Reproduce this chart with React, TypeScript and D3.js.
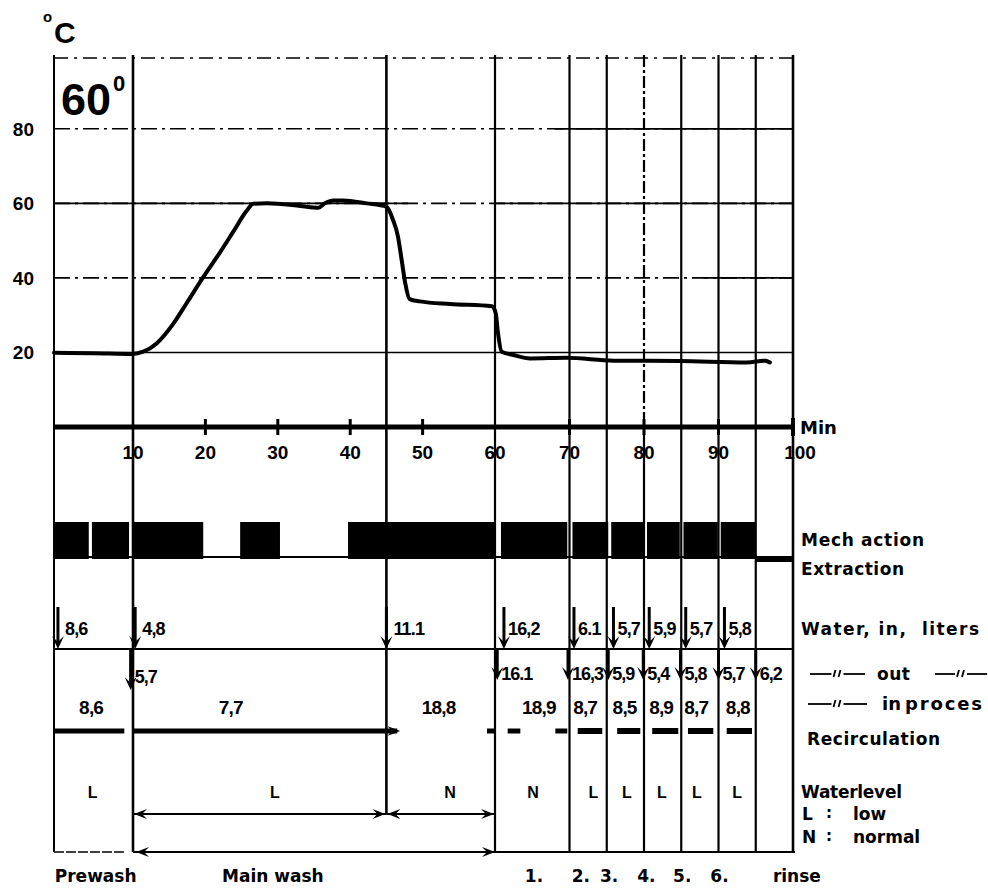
import React from 'react';
import * as d3 from 'd3';

// ---------- data ----------
const tempMinutes = [0, 5, 10, 11.4, 13.3, 15.6, 17.4, 19.7, 22, 23.85, 25.7, 26.6, 28.5, 33.1, 35.6, 36.5, 37.7, 39.0, 42.3, 45, 45.9, 46.6, 47.1, 47.6, 48.2, 49.6, 53.8, 59.6, 60.1, 60.4, 60.9, 62.5, 64.7, 69.6, 75.9, 84.8, 93.8, 96.3, 96.9];
const tempValues = [19.9, 19.8, 19.6, 20.2, 22.5, 27.8, 33.2, 40.2, 46.8, 52.4, 58.0, 59.9, 60, 59.3, 58.8, 60, 60.8, 60.8, 60, 59.1, 55.6, 51.1, 44.9, 38.6, 34.3, 33.7, 33.0, 32.4, 30.5, 25.2, 20.2, 19.3, 18.4, 18.6, 17.8, 17.7, 17.3, 17.8, 17.3];

const xTicks = [10, 20, 30, 40, 50, 60, 70, 80, 90, 100];
const xMinorTicks = [20, 30, 40, 50, 70, 80, 90];
const yTicks = [20, 40, 60, 80];
const phaseBounds = [10, 45, 60, 70, 75, 80, 85, 90, 95, 100];

const mechOn: [number, number][] = [[0, 4.4], [4.8, 9.5], [10.0, 19.7], [24.8, 30.3], [39.7, 60.1], [60.8, 69.7], [70.4, 75.2], [75.6, 79.9], [80.4, 84.8], [85.3, 89.9], [90.3, 94.9]];
const extraction: [number, number] = [94.9, 100];

const waterInTimes = [0.5, 10.3, 45, 61.2, 70.6, 75.9, 80.7, 85.6, 90.8];
const waterInLabels = ['8,6', '4,8', '11.1', '16,2', '6.1', '5,7', '5,9', '5,7', '5,8'];
const waterOutTimes = [9.7, 60.3, 69.8, 75.2, 79.9, 84.9, 90.0, 95.0];
const waterOutLabels = ['5,7', '16.1', '16,3', '5,9', '5,4', '5,8', '5,7', '6,2'];

const recircCenters = [4.7, 23.5, 52.2, 65.9, 72.1, 77.4, 82.3, 87.0, 92.6];
const recircLabels = ['8,6', '7,7', '18,8', '18,9', '8,7', '8,5', '8,9', '8,7', '8,8'];
const recircSegments: [number, number][] = [[0, 8.9], [10, 46.5], [58.9, 60], [61.7, 63.4], [68.1, 69.7], [71.1, 74.4], [76.4, 79.5], [81.1, 84.6], [85.9, 89.3], [91.1, 94.5]];

const levelCenters = [4.9, 29.6, 53.8, 65.1, 73.2, 77.7, 82.4, 87.1, 92.5];
const levelLabels = ['L', 'L', 'N', 'N', 'L', 'L', 'L', 'L', 'L'];

const phaseLabelStarts = [0.1, 22.3, 64.0, 70.3, 74.1, 79.1, 83.9, 88.9, 97.3];
const phaseLabels = ['Prewash', 'Main wash', '1.', '2.', '3.', '4.', '5.', '6.', 'rinse'];

const rightLabels = ['Mech action', 'Extraction', 'Water, in,  liters', 'Recirculation', 'Waterlevel'];

// ---------- layout ----------
const W = 988, H = 891;
const TOP = 58, AXIS_Y = 427;
const MECH_TOP = 522, MECH_BOT = 559;
const IN_TOP = 607, IN_LINE = 649;
const RECIRC_Y = 731, WL_Y = 814, BOT_Y = 852;
const FONT = '"Liberation Sans", Arial, Helvetica, sans-serif';
const LABEL_FONT = '"DejaVu Sans", "Liberation Sans", sans-serif';

const x = d3.scaleLinear().domain([0, 10, 60, 100]).range([54, 133, 495, 793]);
const y = d3.scaleLinear().domain([0, 99]).range([AXIS_Y, TOP]);

const arrowDown = (cx: number, tip: number) =>
  `M${cx - 6},${tip - 13} L${cx},${tip} L${cx + 6},${tip - 13} L${cx},${tip - 7} Z`;
const arrowLeft = (px: number, py: number) =>
  `M${px + 13},${py - 5} L${px},${py} L${px + 13},${py + 5} L${px + 8},${py} Z`;
const arrowRight = (px: number, py: number) =>
  `M${px - 13},${py - 5} L${px},${py} L${px - 13},${py + 5} L${px - 8},${py} Z`;

function Ditto({ x0, base, w }: { x0: number; base: number; w: number }) {
  const ly = base - 6;
  const mid = x0 + w / 2;
  return (
    <g>
      <line x1={x0} x2={mid - 6} y1={ly} y2={ly} stroke="#000" strokeWidth={1.8} />
      <path d={`M${mid - 4},${ly + 3} L${mid - 2},${ly - 4} M${mid + 1},${ly + 3} L${mid + 3},${ly - 4}`}
        stroke="#000" strokeWidth={1.8} fill="none" />
      <line x1={mid + 6} x2={x0 + w} y1={ly} y2={ly} stroke="#000" strokeWidth={1.8} />
    </g>
  );
}

export default function App() {
  const line = d3.line<number>()
    .x((_, i) => x(tempMinutes[i]))
    .y((d) => y(d))
    .curve(d3.curveMonotoneX);
  const tempPath = line(tempValues) || '';

  const vExtent = (b: number) => (b === 45 ? WL_Y : BOT_Y);
  const rightY = [546, 575, 635, 745, 798];
  const rightX = [801, 801, 801, 807, 801];
  const rightW = [123, 103, 178, 133, 101];

  return (
    <svg width={W} height={H} style={{ position: 'absolute', left: 0, top: 0, background: '#fff' }}
      fontFamily={FONT} fontWeight="bold">
      <rect width={W} height={H} fill="#fff" />

      {/* unit label */}
      <text x={43} y={22} fontSize={15}>o</text>
      <text x={54} y={43} fontSize={30}>C</text>

      {/* horizontal grid */}
      <line x1={54} x2={793} y1={TOP} y2={TOP} stroke="#000" strokeWidth={1.5} strokeDasharray="14 6 3 6" />
      {yTicks.map((v) => (
        <g key={v}>
          <line x1={54} x2={793} y1={y(v)} y2={y(v)} stroke="#000" strokeWidth={1.6}
            strokeDasharray={v === 20 ? undefined : '16 5 3 5'} />
          {v !== 20 && (
            <line x1={x(v === 60 ? 60 : v === 80 ? 68 : 88)} x2={793} y1={y(v)} y2={y(v)} stroke="#000" strokeWidth={1.8} />
          )}
          {v === 60 && <line x1={54} x2={x(48)} y1={y(v)} y2={y(v)} stroke="#000" strokeWidth={1.8} />}
          <text x={34} y={y(v) + 7} fontSize={19} textAnchor="end">{v}</text>
        </g>
      ))}

      {/* left axis */}
      <line x1={54} x2={54} y1={TOP - 3} y2={BOT_Y} stroke="#000" strokeWidth={2} />

      {/* phase boundaries */}
      {phaseBounds.map((b) => (
        <g key={b}>
          <line x1={x(b)} x2={x(b)} y1={TOP - 3} y2={b === 80 ? AXIS_Y : vExtent(b)} stroke="#000"
            strokeWidth={b === 10 || b === 45 || b === 100 ? 2.6 : 2.2}
            strokeDasharray={b === 80 ? '12 3 3 3' : undefined} />
          {b === 80 && <line x1={x(b)} x2={x(b)} y1={AXIS_Y} y2={BOT_Y} stroke="#000" strokeWidth={2.2} />}
        </g>
      ))}

      {/* 60° label */}
      <text x={61} y={115} fontSize={45}>60</text>
      <text x={113} y={91} fontSize={22}>0</text>

      {/* time axis */}
      <line x1={54} x2={795} y1={AXIS_Y} y2={AXIS_Y} stroke="#000" strokeWidth={5} />
      {xMinorTicks.map((t) => (
        <line key={t} x1={x(t)} x2={x(t)} y1={AXIS_Y - 8} y2={AXIS_Y + 8} stroke="#000" strokeWidth={3} />
      ))}
      <line x1={x(100)} x2={x(100)} y1={AXIS_Y - 9} y2={AXIS_Y + 9} stroke="#000" strokeWidth={4} />
      {xTicks.map((t) => (
        <text key={t} x={x(t) + (t === 100 ? 7 : 0)} y={459} fontSize={19} textAnchor="middle">{t}</text>
      ))}
      <text x={800} y={434} fontSize={18} fontFamily={LABEL_FONT}>Min</text>

      {/* temperature curve */}
      <path d={tempPath} fill="none" stroke="#000" strokeWidth={4} strokeLinejoin="round" strokeLinecap="round" />

      {/* mechanical action */}
      <line x1={54} x2={x(95)} y1={MECH_BOT - 2} y2={MECH_BOT - 2} stroke="#000" strokeWidth={2} />
      {mechOn.map(([a, b], i) => (
        <rect key={i} x={x(a)} y={MECH_TOP} width={x(b) - x(a)} height={MECH_BOT - MECH_TOP} fill="#000" />
      ))}
      <rect x={x(extraction[0])} y={556} width={x(extraction[1]) - x(extraction[0])} height={6} fill="#000" />

      {/* water in */}
      <line x1={54} x2={793} y1={IN_LINE} y2={IN_LINE} stroke="#000" strokeWidth={2} />
      {waterInTimes.map((t, i) => (
        <g key={i}>
          <line x1={x(t)} x2={x(t)} y1={IN_TOP} y2={IN_LINE - 4} stroke="#000" strokeWidth={3} />
          <path d={arrowDown(x(t), IN_LINE)} fill="#000" />
          <text x={x(t) + (i < 3 ? 7 : 4)} y={635} fontSize={18} letterSpacing={-0.8}>{waterInLabels[i]}</text>
        </g>
      ))}

      {/* water out */}
      {waterOutTimes.map((t, i) => {
        const tip = i === 0 ? 690 : 680;
        return (
          <g key={i}>
            <line x1={x(t)} x2={x(t)} y1={IN_LINE} y2={tip - 4} stroke="#000" strokeWidth={3} />
            <path d={arrowDown(x(t), tip)} fill="#000" />
            <text x={x(t) + 4} y={i === 0 ? 683 : 680} fontSize={18} letterSpacing={-1}>{waterOutLabels[i]}</text>
          </g>
        );
      })}

      {/* recirculation */}
      {recircSegments.map(([a, b], i) => (
        <line key={i} x1={x(a)} x2={x(b)} y1={RECIRC_Y} y2={RECIRC_Y} stroke="#000" strokeWidth={i >= 5 ? 6 : 5} />
      ))}
      <path d={arrowRight(x(46.9), RECIRC_Y)} fill="#000" />
      {recircLabels.map((l, i) => (
        <text key={i} x={x(recircCenters[i])} y={714} fontSize={19} textAnchor="middle" letterSpacing={-0.8}>{l}</text>
      ))}

      {/* water level */}
      {levelLabels.map((l, i) => (
        <text key={i} x={x(levelCenters[i])} y={798} fontSize={16} textAnchor="middle">{l}</text>
      ))}
      <line x1={x(10)} x2={x(45)} y1={WL_Y} y2={WL_Y} stroke="#000" strokeWidth={1.8} />
      <path d={arrowLeft(x(10) + 1, WL_Y)} fill="#000" />
      <path d={arrowRight(x(45) - 1, WL_Y)} fill="#000" />
      <line x1={x(45)} x2={x(60)} y1={WL_Y} y2={WL_Y} stroke="#000" strokeWidth={1.8} />
      <path d={arrowLeft(x(45) + 1, WL_Y)} fill="#000" />
      <path d={arrowRight(x(60) - 1, WL_Y)} fill="#000" />

      {/* bottom phase line */}
      <line x1={54} x2={x(9)} y1={BOT_Y} y2={BOT_Y} stroke="#000" strokeWidth={1.5} strokeDasharray="10 2" />
      <line x1={x(10)} x2={x(60)} y1={BOT_Y} y2={BOT_Y} stroke="#000" strokeWidth={1.8} />
      <path d={arrowLeft(x(10) + 3, BOT_Y)} fill="#000" />
      <path d={arrowRight(x(60), BOT_Y)} fill="#000" />
      <line x1={x(60)} x2={795} y1={BOT_Y} y2={BOT_Y} stroke="#000" strokeWidth={1.8} />

      <g fontFamily={LABEL_FONT}>
        {phaseLabels.map((l, i) => (
          <text key={i} x={x(phaseLabelStarts[i])} y={882} fontSize={17}>{l}</text>
        ))}

        {/* right-hand legend */}
        {rightLabels.map((l, i) => (
          <text key={i} x={rightX[i]} y={rightY[i]} fontSize={17}
            textLength={rightW[i]} lengthAdjust="spacing" style={{ whiteSpace: 'pre' }}>{l}</text>
        ))}
        <Ditto x0={810} base={680} w={55} />
        <text x={877} y={680} fontSize={17} textLength={33} lengthAdjust="spacing">out</text>
        <Ditto x0={935} base={680} w={52} />
        <Ditto x0={808} base={710} w={59} />
        <text x={882} y={710} fontSize={18}>in</text>
        <text x={905} y={710} fontSize={18} textLength={77} lengthAdjust="spacing">proces</text>
        <text x={802} y={820} fontSize={17}>L</text>
        <text x={826} y={818} fontSize={15}>:</text>
        <text x={853} y={820} fontSize={17}>low</text>
        <text x={802} y={843} fontSize={17}>N</text>
        <text x={826} y={841} fontSize={15}>:</text>
        <text x={853} y={843} fontSize={17}>normal</text>
      </g>
    </svg>
  );
}
